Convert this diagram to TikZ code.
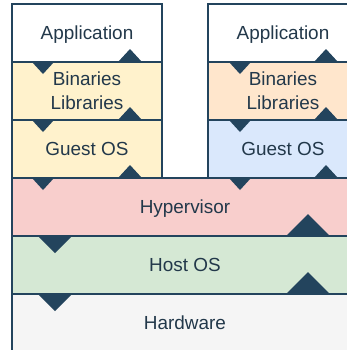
\documentclass[tikz,border=0pt]{standalone}
\usepackage{fontspec}
\setmainfont{Liberation Sans}
\definecolor{edge}{HTML}{23445D}
\definecolor{txt}{HTML}{22384A}
\definecolor{yel}{HTML}{FFF2CC}
\definecolor{ora}{HTML}{FFE6CC}
\definecolor{blu}{HTML}{DAE8FC}
\definecolor{red}{HTML}{F8CECC}
\definecolor{grn}{HTML}{D5E8D4}
\definecolor{gry}{HTML}{F5F5F5}
\begin{document}
\begin{tikzpicture}[x=1bp,y=-1bp,
  layer/.style={draw=edge, line width=1.8bp, minimum height=58bp, inner sep=0pt,
    text=txt, align=center, font=\fontsize{19}{24}\selectfont},
  stackbox/.style={layer, minimum width=150bp},
  wide/.style={layer, minimum width=346bp},
  nodesc/.style={text depth=0pt},
  tri/.style={fill=edge}]
\useasboundingbox (0,0) rectangle (347,350);
\clip (0,0) rectangle (347,350);
% left stack
\node[stackbox, nodesc, fill=white] (appL) at (87,33) {Application};
\node[stackbox, fill=yel] (binL) at (87,91) {Binaries\\Libraries};
\node[stackbox, fill=yel] (osL) at (87,149) {Guest OS};
% right stack
\node[stackbox, nodesc, fill=white] (appR) at (283,33) {Application};
\node[stackbox, fill=ora] (binR) at (283,91) {Binaries\\Libraries};
\node[stackbox, fill=blu] (osR) at (283,149) {Guest OS};
% bottom layers
\node[wide, nodesc, fill=red] (hyp) at (185,207) {Hypervisor};
\node[wide, fill=grn] (host) at (185,265) {Host OS};
\node[wide, fill=gry] (hw) at (185,323) {Hardware};
% small triangles of the stacks
\foreach \cx/\ux in {43/130, 240/326}{
  \foreach \y in {62,120,178}{
    \fill[tri] (\cx-11,\y) -- (\cx+11,\y) -- (\cx,\y+12) -- cycle;
    \fill[tri] (\ux-12,\y) -- (\ux+12,\y) -- (\ux,\y-13) -- cycle;
  }
}
% large triangles of the bottom layers
\foreach \y in {236,294}{
  \fill[tri] (38,\y) -- (72,\y) -- (55,\y+17) -- cycle;
  \fill[tri] (286,\y) -- (330,\y) -- (308,\y-22) -- cycle;
}
\end{tikzpicture}
\end{document}
